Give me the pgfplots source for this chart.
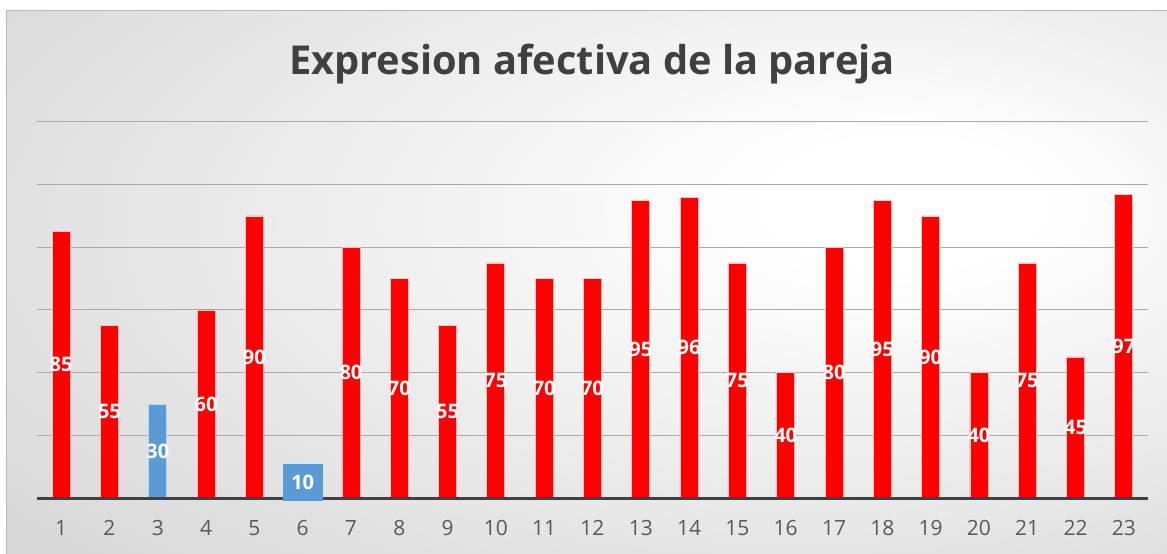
\documentclass[border=0pt]{standalone}
\usepackage{pgfplots}
\pgfplotsset{compat=1.18}
\usepackage{pgfplotstable}
\usepackage{fontspec}
\setmainfont{Open Sans}
\definecolor{redbar}{HTML}{FF0000}
\definecolor{bluebar}{HTML}{5B9BD5}
\definecolor{titlegray}{HTML}{404040}
\definecolor{tickgray}{HTML}{595959}
\definecolor{gridgray}{HTML}{AAAAAA}
\definecolor{basegray}{HTML}{404040}
\definecolor{midgray}{HTML}{CECECE}
\definecolor{edgegray}{HTML}{BEBEBE}
\pgfdeclareradialshading{bgshade}{\pgfpoint{15bp}{8bp}}{color(0bp)=(white); color(6bp)=(white); color(50bp)=(midgray); color(72bp)=(edgegray)}

\pgfplotstableread{
x v
1 85
2 55
4 60
5 90
7 80
8 70
9 55
10 75
11 70
12 70
13 95
14 96
15 75
16 40
17 80
18 95
19 90
20 40
21 75
22 45
23 97
}\redtab
\pgfplotstableread{
x v
3 30
}\bluetab
\pgfplotstableread{
x v
6 10
}\boxtab

\begin{document}
\begin{tikzpicture}[x=1pt,y=1pt]
\useasboundingbox (0,0) rectangle (1167,554);
\shade[shading=bgshade] (6.5,0) rectangle (1167,543.5);
\draw[color=gray!55, line width=1.2pt] (6.5,0) -- (6.5,543.5) -- (1167,543.5);
\node[font=\bfseries\fontsize{39.8}{44}\selectfont, text=titlegray, anchor=base, inner sep=0pt] at (592,479) {Expresion afectiva de la pareja};
\begin{axis}[
  at={(37pt,56pt)}, anchor=south west,
  scale only axis, width=1111pt, height=376pt,
  xmin=0.5, xmax=23.5, ymin=0, ymax=120,
  /pgf/number format/assume math mode=true,
  axis line style={draw=none}, tick style={draw=none},
  xtick={1,...,23}, ytick={20,40,...,120}, yticklabels={},
  ymajorgrids, grid style={gridgray, line width=1pt},
  xticklabel style={font=\fontsize{21}{24}\selectfont, text=tickgray, anchor=base, yshift=-37pt},
  clip=false,
]
\addplot[ybar, bar width=18pt, bar shift=0pt, fill=redbar, draw=red!25!white, line width=0.8pt] table[x=x,y=v]{\redtab};
\addplot[ybar, bar width=18pt, bar shift=0pt, fill=bluebar, draw=bluebar!40!white, line width=0.8pt] table[x=x,y=v]{\bluetab};
\addplot[ybar, bar width=18pt, bar shift=0pt, fill=bluebar, draw=none] table[x=x,y=v]{\boxtab};
\draw[basegray, line width=3pt] (axis cs:0.5,0) -- (axis cs:23.5,0);
\addplot[draw=none, mark=none, nodes near coords, point meta=explicit,
  every node near coord/.style={anchor=center, font=\bfseries\fontsize{20}{24}\selectfont, text=white, inner sep=0pt}]
  table[x=x, y expr=\thisrow{v}/2, meta=v]{\redtab};
\addplot[draw=none, mark=none, nodes near coords, point meta=explicit,
  every node near coord/.style={anchor=center, font=\bfseries\fontsize{20}{24}\selectfont, text=white, inner sep=0pt}]
  table[x=x, y expr=\thisrow{v}/2, meta=v]{\bluetab};
\addplot[draw=none, mark=none, nodes near coords, point meta=explicit,
  every node near coord/.style={anchor=center, font=\bfseries\fontsize{20}{24}\selectfont, text=white, inner sep=0pt, fill=bluebar, minimum width=40pt, minimum height=37pt}]
  table[x=x, y expr=\thisrow{v}/2, meta=v]{\boxtab};
\end{axis}
\end{tikzpicture}
\end{document}
